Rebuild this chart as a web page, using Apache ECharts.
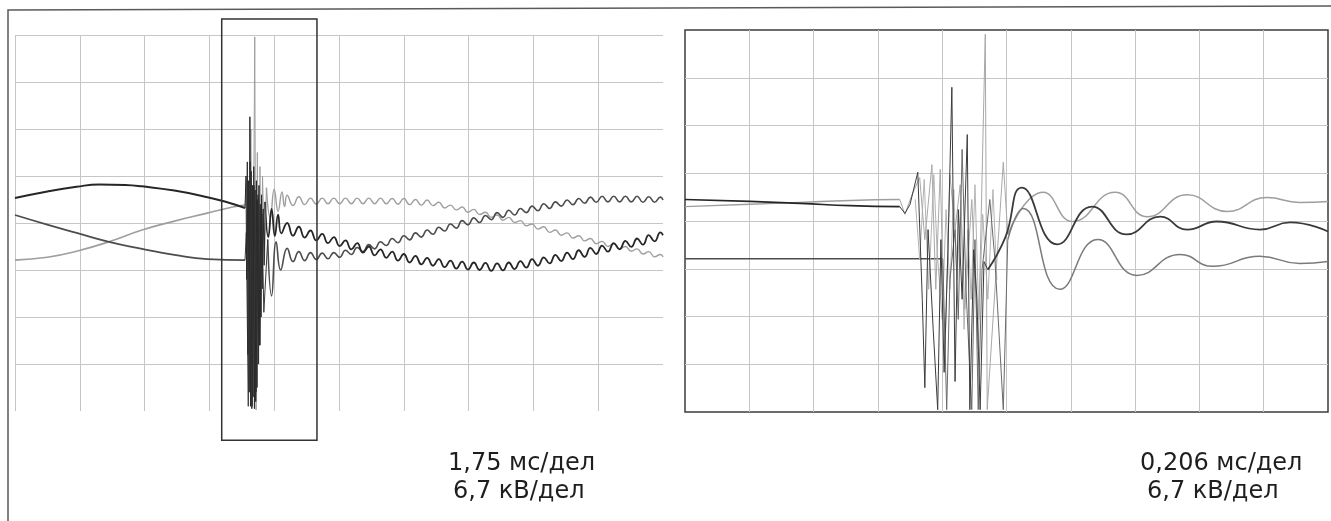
<!DOCTYPE html>
<html><head><meta charset="utf-8">
<script src="https://cdn.jsdelivr.net/npm/echarts@6/dist/echarts.min.js"></script>
<style>html,body{margin:0;padding:0;background:#fff}#c{width:1331px;height:521px}</style>
</head><body><div id="c"></div>
<script>
// Units: x in time divisions (0..10), y in voltage divisions (-4..4)
// ---------- LEFT oscillogram (1,75 мс/дел, 6,7 кВ/дел) ----------
const leftPreA = [[0,0.53],[0.5,0.67],[0.95,0.77],[1.3,0.82],[1.7,0.81],[1.96,0.78],[2.46,0.69],[2.97,0.55],[3.3,0.43],[3.55,0.32]];
const leftPreB = [[0,0.17],[0.51,-0.04],[0.95,-0.21],[1.45,-0.40],[1.96,-0.55],[2.46,-0.68],[2.97,-0.77],[3.55,-0.79]];
const leftPreC = [[0,-0.79],[0.5,-0.73],[0.95,-0.60],[1.45,-0.40],[1.96,-0.15],[2.46,0.04],[2.97,0.21],[3.36,0.34],[3.55,0.38]];
const leftBurstA = [[3.55,0.32],[3.565,1.0],[3.575,-1.2],[3.585,1.3],[3.595,-2.8],[3.605,0.9],[3.615,-3.6],[3.625,2.26],[3.635,-3.9],[3.645,1.1],[3.655,-3.95],[3.665,0.8],[3.675,-3.7],[3.685,1.2],[3.695,-3.95],[3.705,0.7],[3.715,-3.8],[3.725,0.9],[3.735,-3.5],[3.745,0.5],[3.755,-3.0],[3.765,0.8],[3.775,-2.6],[3.785,0.4],[3.795,-2.0],[3.805,0.6],[3.815,-1.4],[3.83,0.3],[3.845,-0.9],[3.86,0.45]];
const leftBurstB = [[3.55,-0.79],[3.57,-0.2],[3.60,-3.9],[3.63,1.3],[3.66,-3.9],[3.69,0.8],[3.72,-3.6],[3.75,0.6],[3.78,-2.6],[3.81,0.2],[3.84,-1.9],[3.90,-0.35]];
const leftBurstC = [[3.55,0.38],[3.58,0.9],[3.61,-1.0],[3.64,2.0],[3.67,-2.5],[3.70,3.96],[3.72,-3.98],[3.74,1.5],[3.76,-3.0],[3.78,1.2],[3.80,-2.0],[3.82,1.0],[3.85,-0.8],[3.88,0.75]];
const leftRingA = [[3.86,0.45],[3.91,-0.30],[3.96,0.30],[4.01,-0.28],[4.06,0.18],[4.11,-0.22]];
const leftRingB = [[3.90,-0.35],[3.96,-1.55],[4.03,-0.40],[4.10,-1.0]];
const leftRingC = [[3.88,0.75],[3.94,0.10],[4.00,0.72],[4.06,0.25],[4.12,0.66],[4.16,0.35]];
const leftRippleT = [4.20,4.29,4.38,4.47,4.56,4.65,4.74,4.83,4.92,5.01,
  5.10,5.19,5.28,5.37,5.46,5.55,5.64,5.73,5.82,5.91,
  6.00,6.09,6.18,6.27,6.36,6.45,6.54,6.63,6.72,6.81,
  6.90,6.99,7.08,7.17,7.26,7.35,7.44,7.53,7.62,7.71,
  7.80,7.89,7.98,8.07,8.16,8.25,8.34,8.43,8.52,8.61,
  8.70,8.79,8.88,8.97,9.06,9.15,9.24,9.33,9.42,9.51,
  9.60,9.69,9.78,9.87,9.96,10.0];
const leftRippleA = [0.00,-0.27,-0.08,-0.31,-0.16,-0.37,-0.23,-0.43,-0.30,-0.49,
  -0.37,-0.56,-0.43,-0.63,-0.50,-0.69,-0.56,-0.74,-0.61,-0.80,
  -0.66,-0.84,-0.70,-0.88,-0.74,-0.91,-0.77,-0.94,-0.80,-0.97,
  -0.82,-0.99,-0.84,-1.00,-0.85,-1.02,-0.86,-1.01,-0.84,-0.98,
  -0.81,-0.95,-0.77,-0.91,-0.73,-0.86,-0.68,-0.81,-0.63,-0.77,
  -0.58,-0.72,-0.53,-0.66,-0.48,-0.61,-0.43,-0.56,-0.38,-0.51,
  -0.33,-0.46,-0.26,-0.39,-0.20,-0.26];
const leftRippleB = [-0.54,-0.82,-0.61,-0.80,-0.63,-0.78,-0.64,-0.76,-0.63,-0.73,
  -0.58,-0.67,-0.52,-0.61,-0.46,-0.55,-0.40,-0.48,-0.33,-0.42,
  -0.27,-0.36,-0.21,-0.30,-0.15,-0.24,-0.09,-0.17,-0.02,-0.11,
  0.05,-0.04,0.11,0.01,0.16,0.07,0.22,0.12,0.27,0.17,
  0.31,0.22,0.36,0.26,0.41,0.31,0.45,0.36,0.49,0.39,
  0.52,0.42,0.55,0.44,0.57,0.45,0.57,0.45,0.57,0.45,
  0.57,0.44,0.56,0.44,0.55,0.49];
const leftRippleC = [0.59,0.37,0.56,0.39,0.53,0.40,0.53,0.41,0.53,0.41,
  0.53,0.41,0.53,0.41,0.53,0.41,0.53,0.41,0.52,0.40,
  0.52,0.39,0.50,0.38,0.49,0.37,0.44,0.32,0.38,0.28,
  0.34,0.23,0.29,0.18,0.23,0.12,0.17,0.06,0.12,0.01,
  0.05,-0.06,-0.02,-0.13,-0.08,-0.20,-0.15,-0.26,-0.21,-0.32,
  -0.27,-0.38,-0.33,-0.44,-0.39,-0.50,-0.44,-0.55,-0.50,-0.60,
  -0.55,-0.66,-0.61,-0.72,-0.67,-0.72];
// zoom window marked on the left trace (divisions)
const zoomWindow = {x0:3.19, x1:4.66, y0:4.34, y1:-4.62};

// ---------- RIGHT oscillogram (0,206 мс/дел, 6,7 кВ/дел) ----------
const rightPreA = [[0,0.45],[1.01,0.41],[1.79,0.37],[2.57,0.32],[3.34,0.30]];
const rightPreB = [[0,-0.79],[1.79,-0.79],[3.34,-0.79],[4.01,-0.79]];
const rightPreC = [[0,0.30],[1.01,0.35],[1.79,0.39],[2.57,0.43],[3.34,0.45]];
const rightBurstA = [[3.34,0.30],[3.42,0.16],[3.50,0.35],[3.62,1.02],[3.69,-1.64],[3.73,-3.49],[3.78,-0.18],[3.86,-2.27],[3.93,-3.95],[3.98,-0.39],[4.03,-3.17],[4.09,-0.60],[4.15,2.80],[4.20,-3.36],[4.25,0.24],[4.31,-1.64],[4.39,1.81],[4.43,-3.95],[4.49,-0.60],[4.54,-1.64],[4.59,-3.95],[4.65,-0.85],[4.71,-1.02]];
const rightBurstB = [[4.01,-0.79],[4.07,-3.95],[4.12,-1.23],[4.20,-0.18],[4.25,-2.06],[4.31,1.50],[4.37,-1.43],[4.46,-3.95],[4.51,-0.39],[4.56,-3.95],[4.62,-1.02],[4.74,0.45],[4.82,-0.81],[4.95,-3.95],[5.02,-0.39]];
const rightBurstC = [[3.34,0.45],[3.42,0.14],[3.53,0.55],[3.65,0.91],[3.73,-0.39],[3.84,1.18],[3.90,-1.43],[3.97,1.08],[4.04,-2.90],[4.12,0.97],[4.20,-0.18],[4.28,0.76],[4.35,-1.85],[4.46,0.45],[4.56,-2.69],[4.67,3.91],[4.70,-3.95],[4.77,-2.48],[4.95,1.23],[5.02,-0.28]];
const rightBurstD = [[3.58,0.45],[3.65,-0.81],[3.72,0.87],[3.79,-1.43],[3.87,0.97],[3.92,-0.60],[4.00,-2.06],[4.06,0.24],[4.12,-1.43],[4.18,0.66],[4.23,-1.23],[4.29,0.45],[4.34,-2.27],[4.40,-0.18],[4.45,-1.64],[4.51,0.76],[4.57,-2.06],[4.63,0.14],[4.71,-1.64],[4.79,0.66],[4.85,-1.23]];
const rightPostA = [[4.71,-1.02],[4.98,-0.35],[5.24,0.70],[5.79,-0.49],[6.33,0.30],[6.87,-0.28],[7.39,0.09],[7.81,-0.18],[8.27,-0.01],[8.94,-0.18],[9.41,-0.03],[10.0,-0.22]];
const rightPostB = [[5.02,-0.39],[5.26,0.26],[5.83,-1.43],[6.42,-0.39],[7.03,-1.14],[7.70,-0.70],[8.21,-0.95],[8.94,-0.74],[9.56,-0.89],[10.0,-0.85]];
const rightPostC = [[5.02,-0.28],[5.57,0.60],[6.03,-0.01],[6.69,0.60],[7.19,0.09],[7.81,0.55],[8.43,0.20],[9.05,0.49],[9.56,0.39],[10.0,0.41]];

const scaleLabels = {
  left: ['1,75 мс/дел', '6,7 кВ/дел'],
  right: ['0,206 мс/дел', '6,7 кВ/дел']
};

function zip(t, v) { return t.map((x, i) => [x, v[i]]); }

const COL = {A:'#262626', B:'#4d4d4d', C:'#9e9e9e'};
function ser(idx, data, color, width, smooth) {
  return {type:'line', xAxisIndex:idx, yAxisIndex:idx, data:data, showSymbol:false, symbol:'none',
    smooth: smooth ? 0.5 : false, lineStyle:{color:color, width:width}, animation:false, silent:true};
}

const gridLine = {show:true, lineStyle:{color:'#c6c6c6', width:1}};
function axis(idx, min, max, showMin, showMax) {
  return {gridIndex:idx, type:'value', min:min, max:max, interval:1,
    axisLine:{show:false}, axisTick:{show:false}, axisLabel:{show:false},
    splitLine:Object.assign({}, gridLine, {showMinLine:showMin, showMaxLine:showMax})};
}

const chart = echarts.init(document.getElementById('c'), null, {renderer:'canvas'});
const series = [
  ser(0, leftPreC, COL.C, 1.6, true),
  ser(0, leftPreB, COL.B, 1.8, true),
  ser(0, leftPreA, COL.A, 2, true),
  ser(0, leftRingC.concat(zip(leftRippleT, leftRippleC)), COL.C, 1.4, true),
  ser(0, leftRingB.concat(zip(leftRippleT, leftRippleB)), COL.B, 1.6, true),
  ser(0, leftRingA.concat(zip(leftRippleT, leftRippleA)), COL.A, 1.8, true),
  ser(0, leftBurstC, COL.C, 1, false),
  ser(0, leftBurstB, '#3a3a3a', 1, false),
  ser(0, leftBurstA, '#2a2a2a', 1, false),
  ser(1, rightPreC, COL.C, 1.4, true),
  ser(1, rightPreB, COL.B, 1.5, true),
  ser(1, rightPreA, COL.A, 1.7, true),
  ser(1, rightBurstD, '#b4b4b4', 1, false),
  ser(1, rightBurstC, '#a8a8a8', 1, false),
  ser(1, rightBurstB, '#6a6a6a', 1, false),
  ser(1, rightBurstA, '#3c3c3c', 1, false),
  ser(1, rightPostC, COL.C, 1.5, true),
  ser(1, rightPostB, '#7a7a7a', 1.5, true),
  ser(1, rightPostA, '#3a3a3a', 1.8, true)
];

chart.setOption({
  backgroundColor:'#ffffff',
  animation:false,
  grid:[
    {left:15, top:35, width:648, height:376},
    {left:685, top:30, width:643, height:382, show:true, borderColor:'#3c3c3c', borderWidth:1.5, backgroundColor:'rgba(0,0,0,0)'}
  ],
  xAxis:[axis(0,0,10,true,false), axis(1,0,10,false,false)],
  yAxis:[axis(0,-4,4,false,true), axis(1,-4,4,false,false)],
  series:series
});

const p0 = chart.convertToPixel({gridIndex:0}, [zoomWindow.x0, zoomWindow.y0]);
const p1 = chart.convertToPixel({gridIndex:0}, [zoomWindow.x1, zoomWindow.y1]);
const font = '24px "DejaVu Sans", Verdana, sans-serif';
function txt(id, s, x, y) {
  return {id:id, type:'text', x:x, y:y, silent:true,
    style:{text:s, font:font, fill:'#1e1e1e', textAlign:'left', textVerticalAlign:'middle'}};
}
chart.setOption({
  graphic:[
    {id:'frame', type:'polyline', silent:true, shape:{points:[[8,521],[8,10],[1331,6]]}, style:{stroke:'#5a5a5a', lineWidth:1.5, fill:null}},
    {id:'zoombox', type:'rect', silent:true, shape:{x:p0[0], y:p0[1], width:p1[0]-p0[0], height:p1[1]-p0[1]}, style:{stroke:'#333', lineWidth:1.5, fill:null}, z:10},
    txt('l1', scaleLabels.left[0], 448, 464),
    txt('l2', scaleLabels.left[1], 453, 492),
    txt('r1', scaleLabels.right[0], 1140, 464),
    txt('r2', scaleLabels.right[1], 1147, 492)
  ]
});
</script></body></html>
